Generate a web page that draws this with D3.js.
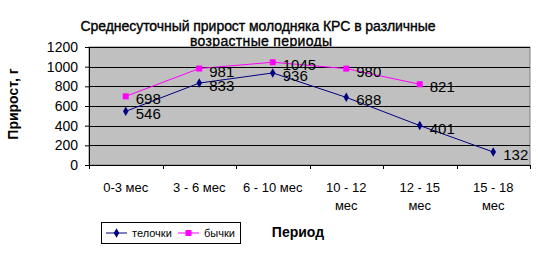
<!DOCTYPE html>
<html>
<head>
<meta charset="utf-8">
<script src="https://cdn.jsdelivr.net/npm/d3@7"></script>
<style>
  body { margin: 0; background: #fff; }
  text { font-family: Arial, "Liberation Sans", sans-serif; fill: #000; }
</style>
</head>
<body>
<svg></svg>
<script>
// data
let periods = ['0-3 мес', '3 - 6 мес', '6 - 10 мес', '10 - 12 мес', '12 - 15 мес', '15 - 18 мес']
let heifers = [546, 833, 936, 688, 401, 132]
let bulls = [698, 981, 1045, 980, 821, null]
let yTicks = [0, 200, 400, 600, 800, 1000, 1200]

let width = 544
let height = 255
let plot = {left: 89, right: 530, top: 47, bottom: 165}

let svg = d3.select('svg').attr('width', width).attr('height', height)

let xScale = d3.scaleBand()
               .domain(periods)
               .range([plot.left, plot.right])
let yScale = d3.scaleLinear()
               .domain([0, 1200])
               .range([plot.bottom, plot.top])

// title
let title = svg.append('text')
               .attr('text-anchor', 'middle')
               .style('font-size', '14px')
               .style('stroke', '#000')
               .style('stroke-width', '0.35px')
title.append('tspan').attr('x', 258).attr('y', 31).attr('textLength', 355).text('Среднесуточный прирост молодняка КРС в различные')
title.append('tspan').attr('x', 261).attr('y', 46).attr('textLength', 142).text('возрастные периоды')

// plot area
svg.append('rect')
   .attr('x', plot.left).attr('y', plot.top)
   .attr('width', plot.right - plot.left).attr('height', plot.bottom - plot.top)
   .attr('fill', '#c0c0c0')
   .attr('stroke', '#808080')

svg.selectAll('.grid')
   .data(yTicks.slice(1))
   .enter()
   .append('line')
   .attr('x1', plot.left).attr('x2', plot.right)
   .attr('y1', d => Math.round(yScale(d)) + 0.5)
   .attr('y2', d => Math.round(yScale(d)) + 0.5)
   .attr('stroke', '#000')

// y axis
let yAxis = d3.axisLeft(yScale).tickValues(yTicks).tickFormat(d3.format('d')).tickSize(4).tickPadding(7)
let gy = svg.append('g')
            .attr('transform', `translate(${plot.left},0)`)
            .call(yAxis)
gy.select('.domain').attr('stroke', '#000')
gy.selectAll('text').style('font-size', '14px').style('font-family', 'Arial, "Liberation Sans", sans-serif')

// x axis
let xAxis = d3.axisBottom(xScale).tickSize(0).tickFormat('')
let gx = svg.append('g')
            .attr('transform', `translate(0,${plot.bottom})`)
            .call(xAxis)
gx.select('.domain').attr('stroke', '#000')
gx.selectAll('.xt')
  .data(d3.range(periods.length + 1))
  .enter()
  .append('line')
  .attr('x1', i => Math.round(plot.left + i * xScale.bandwidth()) + 0.5)
  .attr('x2', i => Math.round(plot.left + i * xScale.bandwidth()) + 0.5)
  .attr('y1', 0).attr('y2', 4)
  .attr('stroke', '#000')

// category labels, wrapped like the original
let wrap = {'10 - 12 мес': ['10 - 12', 'мес'], '12 - 15 мес': ['12 - 15', 'мес'], '15 - 18 мес': ['15 - 18', 'мес']}
periods.forEach(p => {
    let lines = wrap[p] || [p]
    let t = svg.append('text')
               .attr('text-anchor', 'middle')
               .style('font-size', '13px')
    lines.forEach((l, i) => {
        t.append('tspan')
         .attr('x', xScale(p) + xScale.bandwidth() / 2)
         .attr('y', 192 + i * 18)
         .text(l)
    })
})

// axis titles
svg.append('text')
   .attr('transform', `translate(18,104) rotate(-90)`)
   .attr('text-anchor', 'middle')
   .style('font-size', '14px')
   .style('font-weight', 'bold')
   .text('Прирост, г')

svg.append('text')
   .attr('x', 298).attr('y', 237)
   .attr('text-anchor', 'middle')
   .style('font-size', '14px')
   .style('font-weight', 'bold')
   .text('Период')

// series
let cx = p => xScale(p) + xScale.bandwidth() / 2
let series = [
    {name: 'телочки', values: heifers, color: '#000080', shape: d3.symbolDiamond, size: 26},
    {name: 'бычки', values: bulls, color: '#ff00ff', shape: d3.symbolSquare, size: 36}
]

series.forEach(s => {
    let pts = periods.map((p, i) => [p, s.values[i]]).filter(d => d[1] != null)
    let line = d3.line().x(d => cx(d[0])).y(d => yScale(d[1]))
    svg.append('path')
       .attr('d', line(pts))
       .attr('fill', 'none')
       .attr('stroke', s.color)
       .attr('stroke-width', 1)
    svg.selectAll(null)
       .data(pts)
       .enter()
       .append('path')
       .attr('d', d3.symbol(s.shape, s.size))
       .attr('transform', d => `translate(${cx(d[0])},${yScale(d[1])})`)
       .attr('fill', s.color)
    svg.selectAll(null)
       .data(pts)
       .enter()
       .append('text')
       .attr('x', d => cx(d[0]) + 10)
       .attr('y', d => yScale(d[1]) + 8)
       .style('font-size', '15px')
       .text(d => d[1])
})

// legend
let lg = svg.append('g')
lg.append('rect')
  .attr('x', 101.5).attr('y', 222.5).attr('width', 139).attr('height', 21)
  .attr('fill', '#fff').attr('stroke', '#000')
let items = [{x: 106, tx: 132}, {x: 178, tx: 204}]
series.forEach((s, i) => {
    let it = items[i]
    lg.append('line')
      .attr('x1', it.x).attr('x2', it.x + 21)
      .attr('y1', 233).attr('y2', 233)
      .attr('stroke', s.color)
    lg.append('path')
      .attr('d', d3.symbol(s.shape, s.size))
      .attr('transform', `translate(${it.x + 10.5},233)`)
      .attr('fill', s.color)
    lg.append('text')
      .attr('x', it.tx).attr('y', 237)
      .style('font-size', '11px')
      .text(s.name)
})
</script>
</body>
</html>
